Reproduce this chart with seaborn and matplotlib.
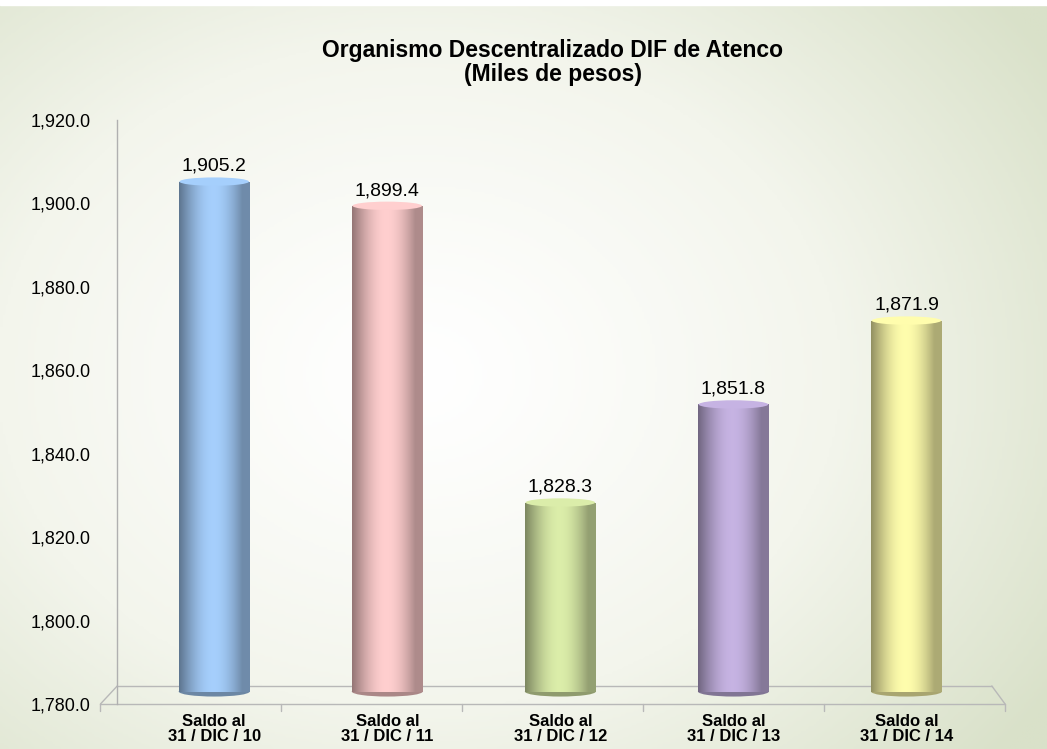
import numpy as np
import pandas as pd
import matplotlib
matplotlib.use("Agg")
import matplotlib.pyplot as plt
import matplotlib.colors as mcolors
from matplotlib.patches import Ellipse
import seaborn as sns

# data
categories = ["Saldo al\n31 / DIC / 10", "Saldo al\n31 / DIC / 11", "Saldo al\n31 / DIC / 12",
              "Saldo al\n31 / DIC / 13", "Saldo al\n31 / DIC / 14"]
values = [1905.2, 1899.4, 1828.3, 1851.8, 1871.9]
bar_colors = ["#9cc3ee", "#f6c3c3", "#cfe0a0", "#bba9d6", "#f3efa3"]
yticks = [1780, 1800, 1820, 1840, 1860, 1880, 1900, 1920]

floor = 1783.0  # bars stand on the back edge of the 3D floor
df = pd.DataFrame({"cat": categories, "val": values})

sns.set_style("white")
plt.rcParams["font.family"] = ["Liberation Sans", "DejaVu Sans"]
plt.rcParams["text.color"] = "black"
plt.rcParams["xtick.color"] = "black"
plt.rcParams["ytick.color"] = "black"

fig = plt.figure(figsize=(10.47, 7.49), dpi=100)

# background panel with soft green gradient
bg = fig.add_axes([0, 0, 1, 1], zorder=-10)
bg.set_axis_off()
yy, xx = np.mgrid[0:1:300j, 0:1:400j]
d = np.sqrt(((xx - 0.40) / 0.72) ** 2 + ((yy - 0.50) / 0.80) ** 2)
d = np.clip(d, 0, 1) ** 1.2
cmap_bg = mcolors.LinearSegmentedColormap.from_list("bg", ["#ffffff", "#f3f5ec", "#d9e1c9"])
bg.imshow(d, cmap=cmap_bg, extent=[0, 1, 0, 1], origin="lower", aspect="auto",
          vmin=0, vmax=1, transform=bg.transAxes)
bg.add_patch(plt.Rectangle((0, 0.993), 1, 0.01, color="white", transform=bg.transAxes))
bg.set_xlim(0, 1)
bg.set_ylim(0, 1)

ax = fig.add_axes([0.112, 0.06, 0.848, 0.78])
ax.patch.set_alpha(0)

sns.barplot(data=df, x="cat", y=np.array(values) - floor, hue="cat", palette=bar_colors,
            legend=False, width=0.41, ax=ax, bottom=floor, saturation=1, edgecolor="none")

ax.set_ylim(1780, 1920)
ax.set_xlim(-0.56, 4.57)
ax.set_yticks(yticks)
ax.set_yticklabels([f"{t:,.1f}" for t in yticks], fontsize=13, color="black")
ax.set_xlabel("")
ax.set_ylabel("")
ax.set_xticks(range(len(categories)))
ax.set_xticklabels(categories, fontsize=12, fontweight="bold", linespacing=1.0, color="black")
ax.tick_params(axis="x", length=0, pad=7)
ax.tick_params(axis="y", length=5, color="#a0a0a0", direction="out", pad=14)
for s in ["top", "right"]:
    ax.spines[s].set_visible(False)
for s in ["left", "bottom"]:
    ax.spines[s].set_color("#b0b0b0")
    ax.spines[s].set_linewidth(1.0)

# pseudo-3D floor
floor_kw = dict(color="#b8b8b8", lw=1.0, transform=ax.transAxes, clip_on=False)
ax.plot([-0.019, 0.0], [0.0, 0.031], **floor_kw)
ax.plot([0.0, 0.985], [0.031, 0.031], **floor_kw)
ax.plot([0.985, 1.0], [0.031, 0.0], **floor_kw)
ax.plot([-0.019, 1.0], [0.0, 0.0], **floor_kw)
ax.spines["bottom"].set_visible(False)
for k in range(0, 6):
    xk = -0.019 + k * (1.019 / 5)
    ax.plot([xk, xk], [0, -0.012], **floor_kw)

# cylinder shading on each bar
shade = np.linspace(0, 1, 200)
prof = np.sin(np.clip(shade * 1.12, 0, 1) * np.pi * 0.92)
for patch, col in zip(ax.patches, bar_colors):
    x0, y0 = patch.get_x(), patch.get_y()
    w, h = patch.get_width(), patch.get_height()
    rgb = np.array(mcolors.to_rgb(col))
    dark = rgb * 0.6
    lite = np.minimum(rgb * 1.06, 1)
    img = np.zeros((2, 200, 3))
    for i, t in enumerate(prof):
        img[:, i, :] = dark + (lite - dark) * t
    im = ax.imshow(img, extent=[x0, x0 + w, y0, y0 + h], aspect="auto", zorder=3, origin="lower")
    im.set_clip_path(patch)
    patch.set_alpha(0)
    cap = Ellipse((x0 + w / 2, y0 + h), w * 0.98, 2.0, facecolor=lite,
                  edgecolor="none", zorder=4)
    ax.add_patch(cap)
    bot = Ellipse((x0 + w / 2, y0), w, 2.4, facecolor=dark * 1.15, edgecolor="none", zorder=2)
    ax.add_patch(bot)

for x, v in enumerate(values):
    ax.text(x, v + 1.6, f"{v:,.1f}", ha="center", va="bottom", fontsize=14, color="black", zorder=5)

fig.text(0.528, 0.917, "Organismo Descentralizado DIF de Atenco\n(Miles de pesos)",
         ha="center", va="center", fontsize=16.5, fontweight="bold", linespacing=1.05,
         color="black")

fig.savefig("out.png", dpi=100)
